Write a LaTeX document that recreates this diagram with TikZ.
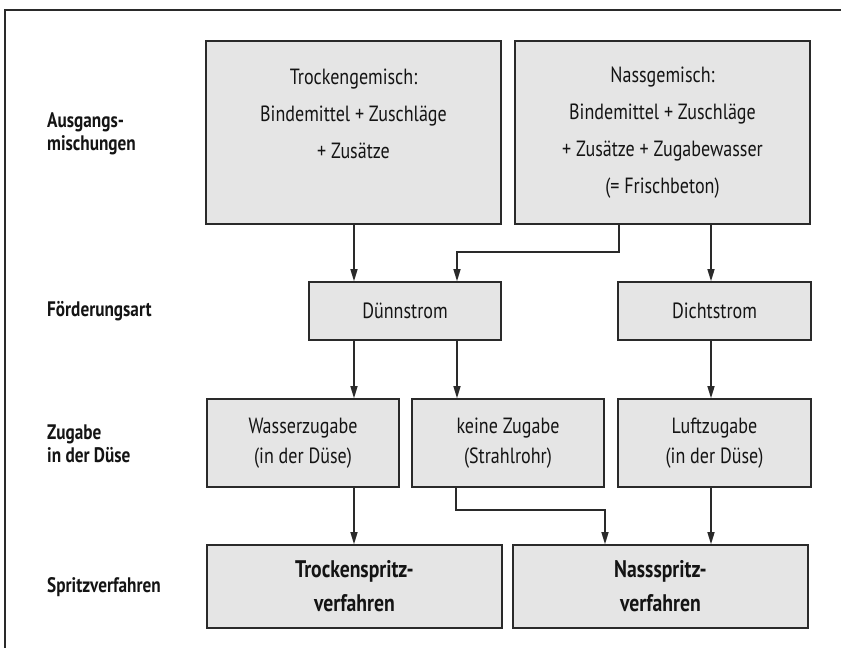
\documentclass[tikz,border=0pt]{standalone}
\usepackage{fontspec}
\setmainfont{PT Sans}[FakeStretch=0.82]
\usetikzlibrary{arrows.meta}
\definecolor{boxfill}{HTML}{E5E5E5}
\definecolor{linecol}{HTML}{2A2A2A}
\definecolor{txtcol}{HTML}{141414}
\tikzset{
  box/.style={draw=linecol, line width=1.6pt, fill=boxfill, inner sep=0pt, align=center, text=txtcol},
  bigbox/.style={box, minimum width=295pt, minimum height=183pt, font=\fontsize{22}{37}\selectfont},
  flowbox/.style={box, minimum width=192pt, minimum height=58pt, font=\fontsize{22}{26}\selectfont},
  addbox/.style={box, minimum width=192pt, minimum height=88pt, font=\fontsize{22}{30}\selectfont},
  endbox/.style={box, minimum width=295pt, minimum height=83pt, font=\bfseries\fontsize{24}{34}\selectfont},
  rowlabel/.style={anchor=west, align=left, inner sep=0pt, text=txtcol, font=\bfseries\fontsize{21}{23}\selectfont},
  arr/.style={draw=linecol, line width=1.3pt, -{Triangle[length=12pt,width=7pt]}},
  frame/.style={draw=linecol, line width=1.6pt}
}
\begin{document}
\begin{tikzpicture}[x=1pt,y=-1pt]
\useasboundingbox (0,0) rectangle (841,648);
\draw[frame] (5,648) -- (5,10) -- (841,10);

% row labels
\node[rowlabel] (l1) at (47,134) {Ausgangs-\\mischungen};
\node[rowlabel] (l2) at (47,311) {Förderungsart};
\node[rowlabel] (l3) at (47,444) {Zugabe\\in der Düse};
\node[rowlabel] (l4) at (47,587) {Spritzverfahren};

% boxes
\node[bigbox] (tro) at (353.5,132.5) {Trockengemisch:\\Bindemittel + Zuschläge\\+ Zusätze\\\mbox{}};
\node[bigbox] (nas) at (662.5,132.5) {Nassgemisch:\\Bindemittel + Zuschläge\\+ Zusätze + Zugabewasser\\(= Frischbeton)};
\node[flowbox] (dun) at (405,311) {Dünnstrom};
\node[flowbox, minimum width=193pt] (dic) at (714.5,311) {Dichtstrom};
\node[addbox] (was) at (303,443) {Wasserzugabe\\(in der Düse)};
\node[addbox] (kei) at (508,443) {keine Zugabe\\(Strahlrohr)};
\node[addbox, minimum width=193pt] (luf) at (714.5,443) {Luftzugabe\\(in der Düse)};
\node[endbox] (tsv) at (354.5,586.5) {Trockenspritz-\\verfahren};
\node[endbox] (nsv) at (660.5,586.5) {Nassspritz-\\verfahren};

% helper coordinates
\coordinate (xa) at (354,0);
\coordinate (xd) at (711,0);
\coordinate (e1) at (619,252);
\coordinate (e2) at (457,252);
\coordinate (f1) at (456,510);
\coordinate (f2) at (605,510);

% connectors
\draw[arr] (xa |- tro.south) -- (xa |- dun.north);
\draw[arr] (e1 |- nas.south) -- (e1) -- (e2) -- (e2 |- dun.north);
\draw[arr] (xd |- nas.south) -- (xd |- dic.north);
\draw[arr] (xa |- dun.south) -- (xa |- was.north);
\draw[arr] (e2 |- dun.south) -- (e2 |- kei.north);
\draw[arr] (xd |- dic.south) -- (xd |- luf.north);
\draw[arr] (xa |- was.south) -- (xa |- tsv.north);
\draw[arr] (f1 |- kei.south) -- (f1) -- (f2) -- (f2 |- nsv.north);
\draw[arr] (xd |- luf.south) -- (xd |- nsv.north);
\end{tikzpicture}
\end{document}
